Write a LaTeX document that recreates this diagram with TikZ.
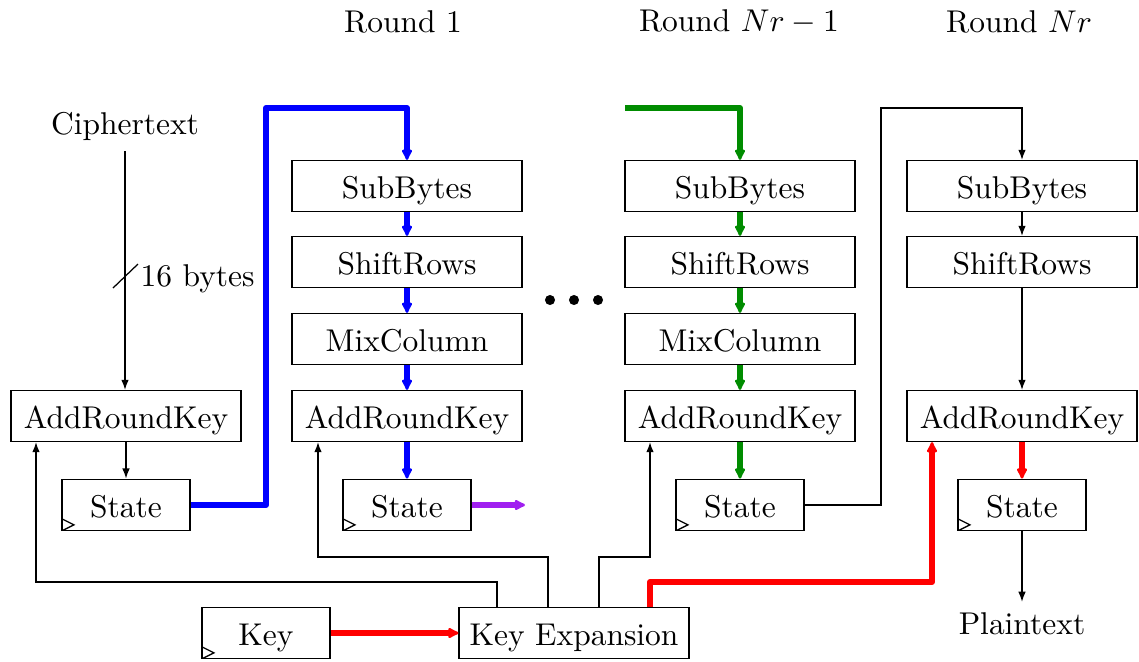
\documentclass[tikz,border=0pt]{standalone}
\usepackage{tikz}
\usetikzlibrary{arrows.meta,positioning,calc}
\usepackage{xcolor}
\definecolor{rndblue}{RGB}{0,0,255}
\definecolor{rndgreen}{RGB}{0,140,0}
\definecolor{rndpurple}{RGB}{160,32,240}
\definecolor{rndred}{RGB}{255,0,0}

\begin{document}
\begin{tikzpicture}[x=0.3176pt, y=-0.3176pt, font=\normalsize,
 box/.style={draw, minimum width=73pt, minimum height=16.2pt, inner sep=2pt, text height=8.2pt, text depth=0pt},
 statebox/.style={draw, minimum width=40.7pt, minimum height=16.4pt, inner sep=2pt, text height=8.2pt, text depth=0pt,
   path picture={\draw ([yshift=3.8pt]path picture bounding box.south west) -- ++(3.8pt,-1.9pt) -- ++(-3.8pt,-1.9pt);}},
 arr/.style={-{Latex[length=3.2pt,width=2.4pt]}, line width=.4pt},
 fat/.style={-{Latex[length=4.2pt,width=4pt,round]}, line width=1.9pt, line join=round}]
\useasboundingbox (0,0) rectangle (1139,661);
% titles
\node (t1) at (403,22) {Round 1};
\node (t2) at (739,22) {Round $Nr-1$};
\node (t3) at (1019,22) {Round $Nr$};
% initial round
\node (cipher) at (125,126) {Ciphertext};
\node[box] (ark0) at (126,416) {AddRoundKey};
\node[statebox] (st0) at (126,505) {State};
% round 1
\node[box] (sb1) at (407,186) {SubBytes};
\node[box] (sr1) at (407,262) {ShiftRows};
\node[box] (mc1) at (407,339) {MixColumn};
\node[box] (ark1) at (407,416) {AddRoundKey};
\node[statebox] (st1) at (407,505) {State};
% round Nr-1
\node[box] (sb2) at (740,186) {SubBytes};
\node[box] (sr2) at (740,262) {ShiftRows};
\node[box] (mc2) at (740,339) {MixColumn};
\node[box] (ark2) at (740,416) {AddRoundKey};
\node[statebox] (st2) at (740,505) {State};
% round Nr
\node[box] (sb3) at (1022,186) {SubBytes};
\node[box] (sr3) at (1022,262) {ShiftRows};
\node[box] (ark3) at (1022,416) {AddRoundKey};
\node[statebox] (st3) at (1022,505) {State};
\node (plain) at (1022,624) {Plaintext};
% key schedule
\node[statebox] (key) at (266,633) {Key};
\node[box] (kexp) at (574,633) {Key Expansion};
% dots
\foreach \x in {550,574,598} \fill (\x,300) circle (1.6pt);

\draw[arr] (cipher.south) -- (cipher.south |- ark0.north);
\coordinate (s1) at (113,288); \coordinate (s2) at (138,264);
\draw (s1) -- (s2);
\node[anchor=west, inner sep=0pt] (bytes) at (140,279) {16 bytes};
\draw[arr] (ark0) -- (st0);

\coordinate (b1) at (266,108);
\draw[fat, rndblue] (st0.east) -| (b1) -| (sb1.north);
\draw[fat, rndblue] (sb1) -- (sr1);
\draw[fat, rndblue] (sr1) -- (mc1);
\draw[fat, rndblue] (mc1) -- (ark1);
\draw[fat, rndblue] (ark1) -- (st1);
\coordinate (p1) at (525,505);
\draw[fat, rndpurple] (st1.east) -- (p1);

\coordinate (g1) at (625,108);
\draw[fat, rndgreen] (g1) -| (sb2.north);
\draw[fat, rndgreen] (sb2) -- (sr2);
\draw[fat, rndgreen] (sr2) -- (mc2);
\draw[fat, rndgreen] (mc2) -- (ark2);
\draw[fat, rndgreen] (ark2) -- (st2);

\coordinate (k1) at (881,108);
\draw[arr] (st2.east) -| (k1) -| (sb3.north);
\draw[arr] (sb3) -- (sr3);
\draw[arr] (sr3) -- (ark3);
\draw[fat, rndred] (ark3) -- (st3);
\draw[arr] (st3) -- (plain);

\draw[fat, rndred] (key) -- (kexp);
\coordinate (ka) at (497,582); \coordinate (kb) at (36,582);
\draw[arr] (kexp.north -| ka) |- (kb) -- (kb |- ark0.south);
\coordinate (kc) at (548,557); \coordinate (kd) at (318,557);
\draw[arr] (kexp.north -| kc) |- (kd) -- (kd |- ark1.south);
\coordinate (ke) at (599,557); \coordinate (kf) at (650,557);
\draw[arr] (kexp.north -| ke) |- (kf) -- (kf |- ark2.south);
\coordinate (kg) at (650,582); \coordinate (kh) at (932,582);
\draw[fat, rndred] (kexp.north -| kg) |- (kh) -- (kh |- ark3.south);
\end{tikzpicture}
\end{document}
